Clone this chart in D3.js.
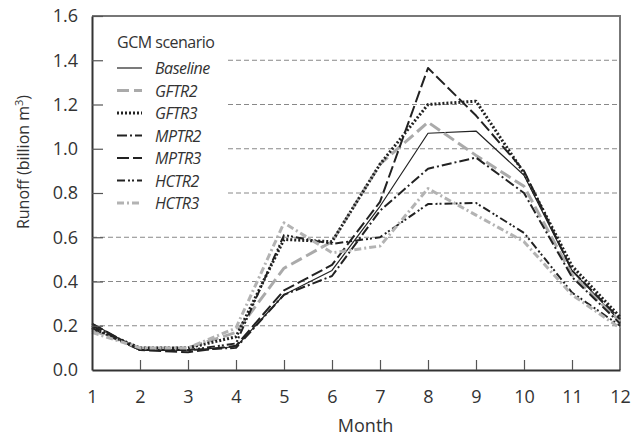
<!DOCTYPE html>
<html>
<head>
<meta charset="utf-8">
<script src="https://cdn.jsdelivr.net/npm/d3@7"></script>
<style>
  body { margin: 0; background: #fff; }
  svg { font-family: "Open Sans", sans-serif; }
</style>
</head>
<body>
<div id="chart"></div>
<script>
// chart data
var months = [1, 2, 3, 4, 5, 6, 7, 8, 9, 10, 11, 12];
var seriesNames = ["Baseline", "GFTR2", "GFTR3", "MPTR2", "MPTR3", "HCTR2", "HCTR3"];
var baseline = [0.21, 0.09, 0.09, 0.105, 0.34, 0.45, 0.74, 1.07, 1.08, 0.88, 0.45, 0.22];
var gftr2 = [0.18, 0.10, 0.10, 0.17, 0.46, 0.58, 0.93, 1.12, 0.97, 0.83, 0.43, 0.22];
var gftr3 = [0.19, 0.10, 0.10, 0.15, 0.59, 0.58, 0.93, 1.20, 1.215, 0.89, 0.47, 0.24];
var mptr2 = [0.20, 0.09, 0.09, 0.10, 0.34, 0.425, 0.72, 0.91, 0.96, 0.80, 0.42, 0.21];
var mptr3 = [0.21, 0.09, 0.08, 0.11, 0.36, 0.475, 0.76, 1.365, 1.15, 0.90, 0.45, 0.23];
var hctr2 = [0.19, 0.09, 0.09, 0.12, 0.61, 0.57, 0.60, 0.75, 0.755, 0.62, 0.35, 0.20];
var hctr3 = [0.17, 0.10, 0.10, 0.19, 0.665, 0.53, 0.56, 0.82, 0.70, 0.58, 0.34, 0.19];
var yTicks = [0, 0.2, 0.4, 0.6, 0.8, 1.0, 1.2, 1.4, 1.6];

var allSeries = [baseline, gftr2, gftr3, mptr2, mptr3, hctr2, hctr3];

// line styles for each scenario
var styles = [
    { color: "#222", width: 1.2, dash: null },
    { color: "#aaa", width: 3, dash: "12,5" },
    { color: "#222", width: 3, dash: "2,2" },
    { color: "#222", width: 2, dash: "10,3,2,3" },
    { color: "#222", width: 2, dash: "12,4" },
    { color: "#222", width: 2, dash: "8,3,2,2,2,3" },
    { color: "#b3b3b3", width: 3, dash: "7,3,2,3" }
];

var svgWidth = 631;
var svgHeight = 437;

var margin = { top: 16, right: 11, bottom: 67, left: 92 };
var chartWidth = svgWidth - margin.left - margin.right;
var chartHeight = svgHeight - margin.top - margin.bottom;

var svg = d3.select("#chart")
    .append("svg")
    .attr("width", svgWidth)
    .attr("height", svgHeight);

var chartGroup = svg.append("g")
    .attr("transform", `translate(${margin.left}, ${margin.top})`);

var xScale = d3.scaleLinear()
    .domain([1, 12])
    .range([0, chartWidth]);

var yScale = d3.scaleLinear()
    .domain([0, 1.6])
    .range([chartHeight, 0]);

// dashed gridlines
chartGroup.selectAll(".grid")
    .data(yTicks.filter(d => d > 0 && d < 1.6))
    .enter()
    .append("line")
    .attr("class", "grid")
    .attr("x1", 0)
    .attr("x2", chartWidth)
    .attr("y1", d => yScale(d))
    .attr("y2", d => yScale(d))
    .attr("stroke", "#888")
    .attr("stroke-width", 1)
    .attr("stroke-dasharray", "5,3");

// top and right frame
chartGroup.append("path")
    .attr("d", `M0,0H${chartWidth}V${chartHeight}`)
    .attr("fill", "none")
    .attr("stroke", "#777")
    .attr("stroke-width", 2);

// legend background covers the grid
var legend = chartGroup.append("g").attr("transform", "translate(0,0)");
legend.append("rect")
    .attr("x", 1)
    .attr("y", 2)
    .attr("width", 134)
    .attr("height", 198)
    .attr("fill", "#fff");

// the lines
var line = d3.line()
    .x((d, i) => xScale(months[i]))
    .y(d => yScale(d));

chartGroup.selectAll(".series")
    .data(allSeries)
    .enter()
    .append("path")
    .attr("class", "series")
    .attr("d", d => line(d))
    .attr("fill", "none")
    .attr("stroke", (d, i) => styles[i].color)
    .attr("stroke-width", (d, i) => styles[i].width)
    .attr("stroke-dasharray", (d, i) => styles[i].dash)
    .attr("stroke-linejoin", "round");

// axes with inside ticks
var xAxis = d3.axisBottom(xScale).tickValues(months).tickSize(-10).tickPadding(20).tickSizeOuter(0);
var yAxis = d3.axisLeft(yScale).tickValues(yTicks).tickSize(-11).tickPadding(14).tickSizeOuter(0)
    .tickFormat(d3.format(".1f"));

var gx = chartGroup.append("g")
    .attr("transform", `translate(0, ${chartHeight})`)
    .call(xAxis);

var gy = chartGroup.append("g")
    .call(yAxis);

[gx, gy].forEach(function(g) {
    g.select(".domain").attr("stroke", "#333").attr("stroke-width", 2);
    g.selectAll(".tick line").attr("stroke", "#555").attr("stroke-width", 1.2);
    g.selectAll("text").attr("fill", "#333").style("font-size", "18px").style("font-family", "Open Sans");
});
gx.selectAll(".tick").filter(d => d === 1 || d === 12).select("line").remove();
gy.selectAll(".tick").filter(d => d === 0).select("line").remove();

// legend entries
legend.append("text")
    .attr("x", 25)
    .attr("y", 32)
    .attr("fill", "#333")
    .style("font-size", "16px")
    .style("letter-spacing", "-0.5px")
    .text("GCM scenario");

var items = legend.selectAll(".item")
    .data(seriesNames)
    .enter()
    .append("g")
    .attr("class", "item")
    .attr("transform", (d, i) => `translate(0, ${52 + i * 22.5})`);

items.append("line")
    .attr("x1", 25)
    .attr("x2", 50)
    .attr("stroke", (d, i) => styles[i].color)
    .attr("stroke-width", (d, i) => styles[i].width)
    .attr("stroke-dasharray", (d, i) => styles[i].dash);

items.append("text")
    .attr("x", 63)
    .attr("y", 6)
    .attr("fill", "#333")
    .style("font-size", "16px")
    .style("letter-spacing", "-0.5px")
    .style("font-style", "italic")
    .text(d => d);

// axis titles
svg.append("text")
    .attr("x", margin.left + xScale(6.7))
    .attr("y", 432)
    .attr("text-anchor", "middle")
    .attr("fill", "#333")
    .style("font-size", "18px")
    .text("Month");

var ylab = svg.append("text")
    .attr("transform", "translate(29, 162) rotate(-90)")
    .attr("text-anchor", "middle")
    .attr("fill", "#333")
    .style("font-size", "16px");
ylab.append("tspan").text("Runoff (billion m");
ylab.append("tspan").attr("dy", -6).style("font-size", "11px").text("3");
ylab.append("tspan").attr("dy", 6).text(")");
</script>
</body>
</html>
